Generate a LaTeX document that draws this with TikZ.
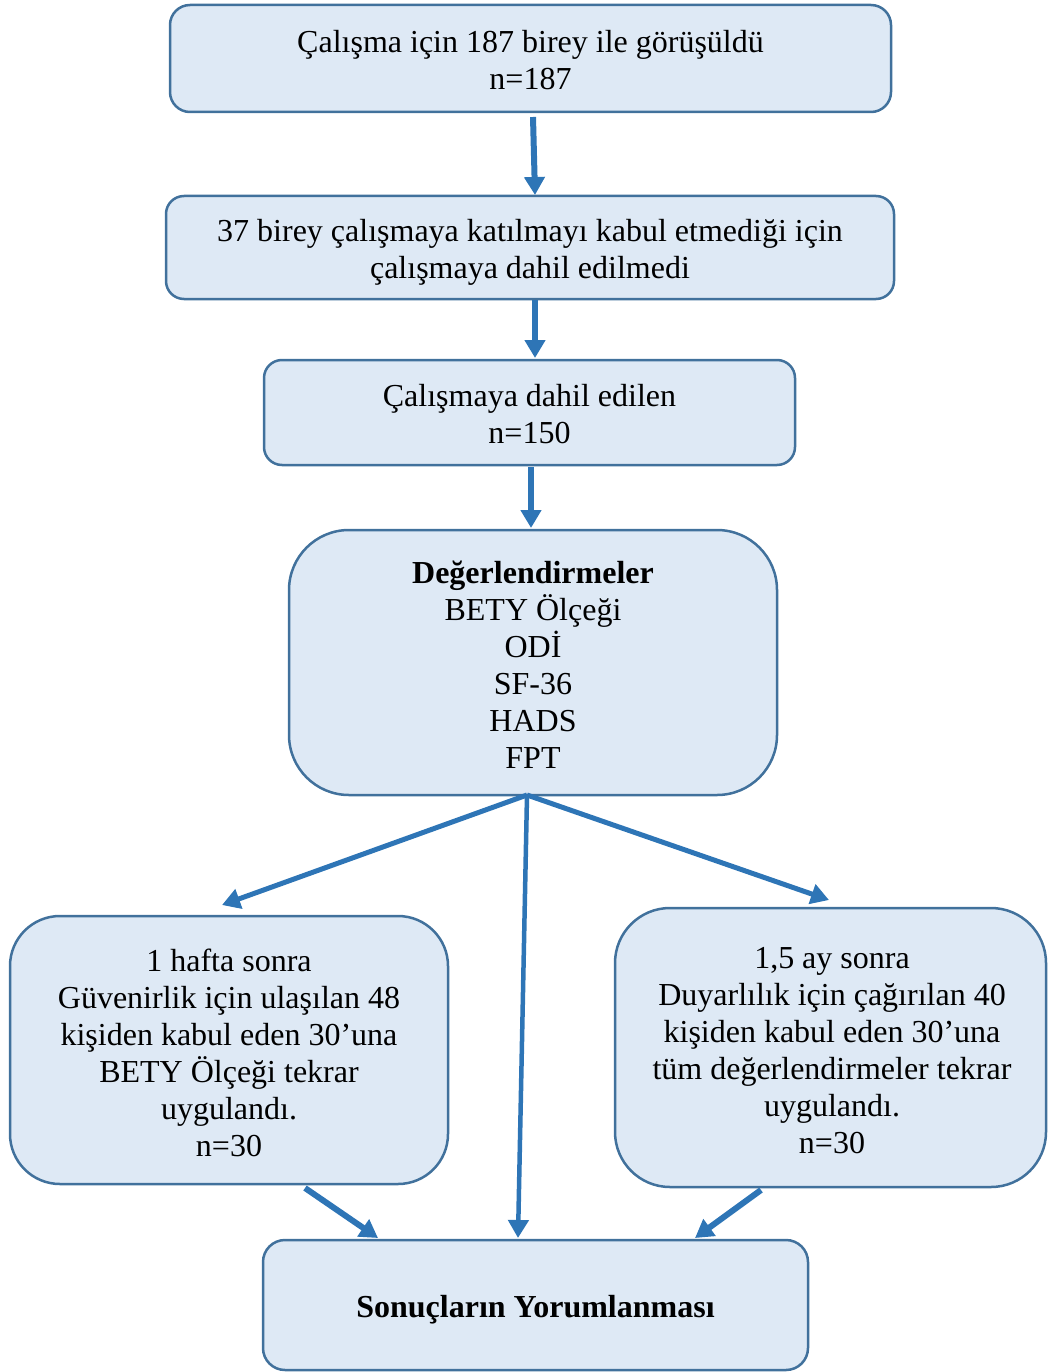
\documentclass[tikz,border=0pt]{standalone}
\usepackage{fontspec}
\setmainfont{Liberation Serif}
\usetikzlibrary{arrows.meta}
\definecolor{boxfill}{HTML}{DEE9F5}
\definecolor{boxline}{HTML}{41719C}
\definecolor{arrowblue}{HTML}{2E75B6}
\begin{document}
\begin{tikzpicture}[x=1pt,y=-1pt,
  stage/.style={draw=boxline, fill=boxfill, line width=2.5pt,
    inner sep=0pt, outer sep=0pt},
  caption/.style={align=center, inner sep=0pt, font=\fontsize{32}{37}\selectfont},
  flow/.style={draw=arrowblue, line width=6pt,
    -{Triangle[length=18pt,width=20pt]}},
  fan/.style={draw=arrowblue, line width=5pt,
    -{Triangle[length=18pt,width=20pt]}}]
\useasboundingbox (0,0) rectangle (1048,1372);

% boxes of the flow chart
\node[stage, rounded corners=20pt, minimum width=721pt, minimum height=107pt]
  (b1) at (530.5,58.5) {};
\node[stage, rounded corners=18pt, minimum width=728pt, minimum height=103pt]
  (b2) at (530,247.5) {};
\node[stage, rounded corners=18pt, minimum width=531pt, minimum height=105pt]
  (b3) at (529.5,412.5) {};
\node[stage, rounded corners=60pt, minimum width=488pt, minimum height=265pt]
  (b4) at (533,662.5) {};
\node[stage, rounded corners=50pt, minimum width=438pt, minimum height=268pt]
  (b5) at (229,1050) {};
\node[stage, rounded corners=55pt, minimum width=431pt, minimum height=279pt]
  (b6) at (830.5,1047.5) {};
\node[stage, rounded corners=22pt, minimum width=545pt, minimum height=130pt]
  (b7) at (535.5,1305) {};

% texts inside the boxes
\node[caption] (t1) at ([shift={(0,1.5)}]b1.center) {Çalışma için 187 birey ile görüşüldü\\n=187};
\node[caption] (t2) at ([shift={(0,5)}]b2.center) {37 birey çalışmaya katılmayı kabul etmediği için\\çalışmaya dahil edilmedi};
\node[caption] (t3) at ([shift={(0,2)}]b3.center) {Çalışmaya dahil edilen\\n=150};
\node[caption] (t4) at ([shift={(0,2)}]b4.center) {\textbf{Değerlendirmeler}\\BETY Ölçeği\\ODİ\\SF-36\\HADS\\FPT};
\node[caption] (t5) at ([shift={(0,3)}]b5.center) {1 hafta sonra\\Güvenirlik için ulaşılan 48\\kişiden kabul eden 30’una\\BETY Ölçeği tekrar\\uygulandı.\\n=30};
\node[caption] (t6) at ([shift={(1.5,3)}]b6.center) {1,5 ay sonra\\Duyarlılık için çağırılan 40\\kişiden kabul eden 30’una\\tüm değerlendirmeler tekrar\\uygulandı.\\n=30};
\node[caption] (t7) at ([shift={(0,5)}]b7.center) {\textbf{Sonuçların Yorumlanması}};

% connectors
\draw[flow] ([shift={(2.5,5)}]b1.south) -- ([shift={(5,-1)}]b2.north);
\draw[flow] ([shift={(5,1)}]b2.south) -- ([shift={(5.5,-2)}]b3.north);
\draw[flow] ([shift={(1.5,2)}]b3.south) -- ([shift={(-2,-2)}]b4.north);
\coordinate (split) at ([shift={(-6,0)}]b4.south);
\draw[fan] (split) -- ([shift={(-7,-11)}]b5.north);
\draw[fan] (split) -- ([shift={(-1.5,-8)}]b6.north);
\draw[fan, line width=4.5pt] (split) -- ([shift={(-17.5,-2)}]b7.north);
\draw[flow] ([shift={(76,4)}]b5.south) -- ([shift={(-157.5,-2)}]b7.north);
\draw[flow] ([shift={(-69.5,3)}]b6.south) -- ([shift={(159.5,-2)}]b7.north);
\end{tikzpicture}
\end{document}
